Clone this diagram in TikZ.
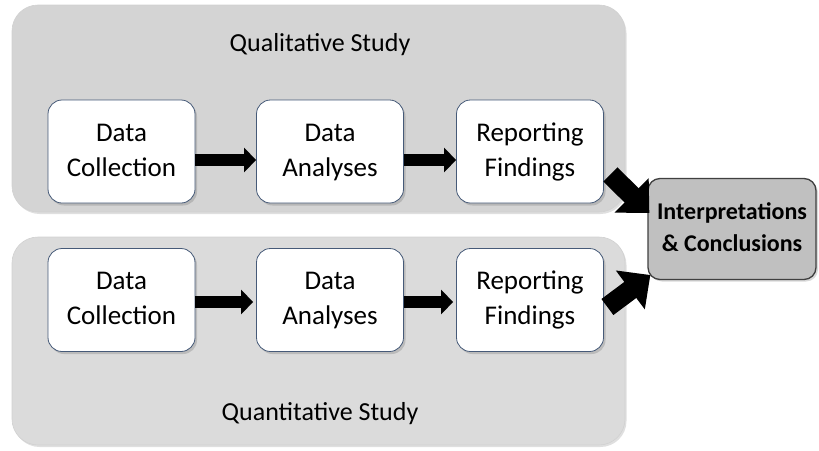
\documentclass[tikz,border=0pt]{standalone}
\usepackage{fontspec}
\setmainfont{Carlito}
\usetikzlibrary{arrows.meta,shadows}
\definecolor{panelA}{RGB}{212,212,212}
\definecolor{panelB}{RGB}{219,219,219}
\definecolor{boxline}{RGB}{70,90,120}
\definecolor{interpfill}{RGB}{192,192,192}
\begin{document}
\begin{tikzpicture}[x=1pt,y=-1pt,
  panel/.style={rounded corners=26pt, draw=black!18, line width=0.6pt,
     drop shadow={opacity=0.25, shadow xshift=1.5pt, shadow yshift=-2pt}},
  stepbox/.style={draw=boxline, line width=0.8pt, fill=white, rounded corners=14pt,
     minimum width=147pt, minimum height=103pt, align=center, font=\fontsize{27}{35}\selectfont,
     drop shadow={opacity=0.35, shadow xshift=2pt, shadow yshift=-2.5pt}},
  endbox/.style={draw=black!75, line width=1.3pt, fill=interpfill, rounded corners=12pt,
     minimum width=168pt, minimum height=101pt, align=center,
     font=\fontsize{24}{32}\selectfont\bfseries,
     drop shadow={opacity=0.3, shadow xshift=2pt, shadow yshift=-2pt}},
  smallarrow/.style={line width=12pt, -{Triangle[length=12pt,width=24pt]}},
  bigarrow/.style={line width=20pt, -{Triangle[length=25pt,width=47pt]}},
  title/.style={font=\fontsize{26}{30}\selectfont}
]
\useasboundingbox (0,0) rectangle (819,450);
% panels
\path[panel, fill=panelA] (12,5) rectangle (625,212);
\path[panel, fill=panelB] (12,237) rectangle (625,445);
\node[title] (qual) at (320,45) {Qualitative Study};
\node[title] (quant) at (320,414) {Quantitative Study};
% top row
\node[stepbox] (dc1) at (121.5,151.5) {Data\strut\\Collection\strut};
\node[stepbox] (da1) at (330,151.5) {Data\strut\\Analyses\strut};
\node[stepbox] (rf1) at (530,151.5) {Reporting\strut\\Findings\strut};
% bottom row
\node[stepbox] (dc2) at (121.5,300) {Data\strut\\Collection\strut};
\node[stepbox] (da2) at (330,300) {Data\strut\\Analyses\strut};
\node[stepbox] (rf2) at (530,300) {Reporting\strut\\Findings\strut};
% arrows
\draw[smallarrow] ([yshift=-8.5pt]dc1.east) -- ([yshift=-8.5pt]da1.west);
\draw[smallarrow] ([yshift=-8.5pt]da1.east) -- ([yshift=-8.5pt]rf1.west);
\draw[smallarrow] ([yshift=-2pt]dc2.east) -- ([shift={(-3,2)}]da2.west);
\draw[smallarrow] ([yshift=-2pt]da2.east) -- ([shift={(-3,2)}]rf2.west);
% final
\node[endbox] (ic) at (732,229) {Interpretations\strut\\\& Conclusions\strut};
\draw[bigarrow] ([shift={(6.5,-29)}]rf1.south east) -- ([shift={(2,-16)}]ic.west);
\draw[bigarrow] ([shift={(3.5,7)}]rf2.east) -- ([shift={(3,46)}]ic.west);
\end{tikzpicture}
\end{document}
